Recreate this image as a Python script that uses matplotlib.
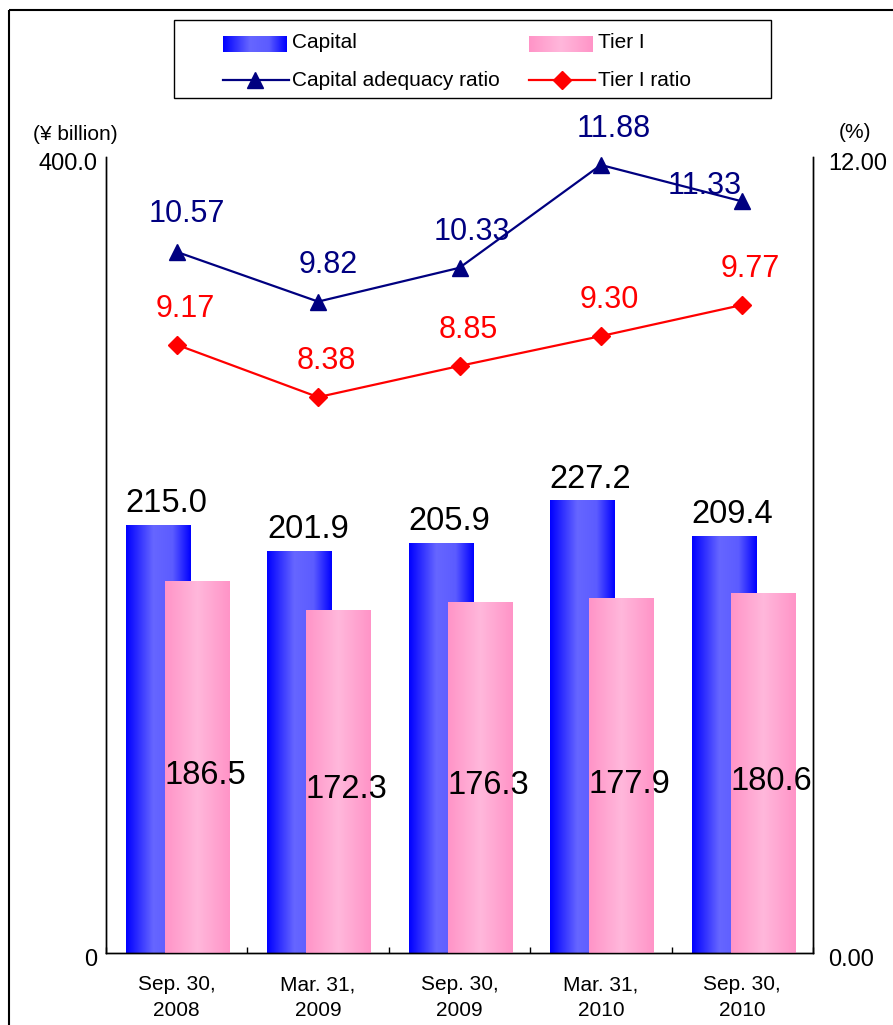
import numpy as np
import matplotlib
matplotlib.use("Agg")
import matplotlib.pyplot as plt
import matplotlib.transforms as mtransforms
from matplotlib.colors import LinearSegmentedColormap
from matplotlib.lines import Line2D

plt.rcParams['font.family'] = ['Liberation Sans', 'DejaVu Sans']

# ---- data ----
categories = ["Sep. 30,\n2008", "Mar. 31,\n2009", "Sep. 30,\n2009", "Mar. 31,\n2010", "Sep. 30,\n2010"]
capital = [215.0, 201.9, 205.9, 227.2, 209.4]
tier1 = [186.5, 172.3, 176.3, 177.9, 180.6]
car_ratio = [10.57, 9.82, 10.33, 11.88, 11.33]
tier1_ratio = [9.17, 8.38, 8.85, 9.30, 9.77]
left_ticks = [0, 400]
left_ticklabels = ["0", "400.0"]
right_ticks = [0, 12]
right_ticklabels = ["0.00", "12.00"]

W, H, DPI = 893, 1025, 100
fig = plt.figure(figsize=(W / DPI, H / DPI), dpi=DPI)
fig.patch.set_facecolor("white")

# gradient colormaps for bar fills
cap_cmap = LinearSegmentedColormap.from_list(
    "cap", [(0.0, (0.0, 0.0, 1.0)), (0.42, (0.40, 0.40, 1.0)),
            (0.72, (0.36, 0.36, 1.0)), (1.0, (0.0, 0.0, 1.0))])
tier_cmap = LinearSegmentedColormap.from_list(
    "tier", [(0.0, (1.0, 0.58, 0.78)), (0.5, (1.0, 0.72, 0.86)),
             (1.0, (1.0, 0.58, 0.78))])
grad = np.linspace(0, 1, 256).reshape(1, -1)


def px_axes(l, t, r, b):
    return [l / W, 1 - b / H, (r - l) / W, (b - t) / H]


ax = fig.add_axes(px_axes(106, 157, 813, 953))
ax2 = ax.twinx()

x = np.arange(len(categories))
bw = 0.453
cap_bars = ax.bar(x - 0.132, capital, width=bw, facecolor="none", edgecolor="none", zorder=2)
tier_bars = ax.bar(x + 0.144, tier1, width=bw, facecolor="none", edgecolor="none", zorder=3)

for bars, cmap, z in ((cap_bars, cap_cmap, 2), (tier_bars, tier_cmap, 3)):
    for rect in bars:
        x0, y0 = rect.get_x(), rect.get_y()
        w, h = rect.get_width(), rect.get_height()
        ax.imshow(grad, cmap=cmap, aspect="auto", extent=(x0, x0 + w, y0, y0 + h),
                  zorder=z, interpolation="bilinear")

ax.set_xlim(-0.5, len(categories) - 0.5)
ax.set_ylim(0, 400)
ax2.set_ylim(0, 12)

# bar value labels
for rect, v in zip(cap_bars, capital):
    ax.annotate(f"{v:.1f}", (rect.get_x() + rect.get_width() / 2, v),
                xytext=(6, 9.5), textcoords="offset points",
                ha="center", va="baseline", fontsize=23.5, color="black", zorder=5)
for rect, v in zip(tier_bars, tier1):
    ax.annotate(f"{v:.1f}", (rect.get_x() + rect.get_width() / 2, v / 2),
                xytext=(6, -6), textcoords="offset points",
                ha="center", va="center", fontsize=23.5, color="black", zorder=5)

# ratio lines
navy = "#000080"
red = "#FF0000"
ax2.plot(x, car_ratio, color=navy, lw=1.6, marker="^", ms=11, zorder=4)
ax2.plot(x, tier1_ratio, color=red, lw=1.6, marker="D", ms=9, zorder=4)

car_offsets = [(7, 27), (7, 26), (9, 26), (9, 26), (-27, 11)]
for xi, v, off in zip(x, car_ratio, car_offsets):
    ax2.annotate(f"{v:.2f}", (xi, v), xytext=off, textcoords="offset points",
                 ha="center", va="center", fontsize=22, color=navy, zorder=6)
for xi, v in zip(x, tier1_ratio):
    ax2.annotate(f"{v:.2f}", (xi, v), xytext=(6, 26), textcoords="offset points",
                 ha="center", va="center", fontsize=22, color=red, zorder=6)

# axes styling
for a in (ax, ax2):
    a.spines["top"].set_visible(False)
    for s in ("left", "right", "bottom"):
        a.spines[s].set_linewidth(1.0)
        a.spines[s].set_color("black")
ax.set_yticks(left_ticks)
ax.set_yticklabels(left_ticklabels, fontsize=17)
ax.tick_params(axis="y", length=0, pad=6)
ax2.set_yticks(right_ticks)
ax2.set_yticklabels(right_ticklabels, fontsize=17)
ax2.tick_params(axis="y", length=0, pad=11)

# value-axis labels sit a little below their tick positions
shift = mtransforms.ScaledTranslation(0, -4 / DPI, fig.dpi_scale_trans)
for lab in ax.get_yticklabels() + ax2.get_yticklabels():
    lab.set_transform(lab.get_transform() + shift)

ax.set_xticks(np.arange(len(categories) + 1) - 0.5)
ax.set_xticklabels([])
ax.tick_params(axis="x", which="major", direction="in", length=4, width=1)
ax.set_xticks(x, minor=True)
ax.set_xticklabels(categories, minor=True, fontsize=15, linespacing=1.45)
ax.tick_params(axis="x", which="minor", length=0, pad=16)

# overlay in pixel coordinates: frame, units and legend
ov = fig.add_axes([0, 0, 1, 1])
ov.set_xlim(0, W)
ov.set_ylim(H, 0)
ov.axis("off")
ov.patch.set_visible(False)

ov.plot([9, W], [10, 10], color="black", lw=1.5, solid_capstyle="butt")
ov.plot([9, 9], [10, H], color="black", lw=1.5, solid_capstyle="butt")

ov.text(75, 135, "(\u00a5 billion)", fontsize=15, ha="center", va="center")
ov.text(855, 132, "(%)", fontsize=15, ha="center", va="center")

# legend box
ov.add_patch(plt.Rectangle((174, 20), 597, 78, facecolor="white", edgecolor="black", lw=1.0))
ov.imshow(grad, cmap=cap_cmap, aspect="auto", extent=(223, 287, 52, 36),
          interpolation="bilinear", zorder=3)
ov.imshow(grad, cmap=tier_cmap, aspect="auto", extent=(529, 593, 52, 36),
          interpolation="bilinear", zorder=3)
ov.add_line(Line2D([223, 289], [80, 80], color=navy, lw=1.6, zorder=3))
ov.add_line(Line2D([255], [80], color=navy, marker="^", ms=11, lw=0, zorder=4))
ov.add_line(Line2D([529, 595], [80, 80], color=red, lw=1.6, zorder=3))
ov.add_line(Line2D([562], [80], color=red, marker="D", ms=9, lw=0, zorder=4))
ov.text(292, 43, "Capital", fontsize=15, ha="left", va="center")
ov.text(598, 43, "Tier I", fontsize=15, ha="left", va="center")
ov.text(292, 80, "Capital adequacy ratio", fontsize=15, ha="left", va="center")
ov.text(598, 80, "Tier I ratio", fontsize=15, ha="left", va="center")
ov.set_xlim(0, W)
ov.set_ylim(H, 0)

fig.savefig("out.png", dpi=DPI)
